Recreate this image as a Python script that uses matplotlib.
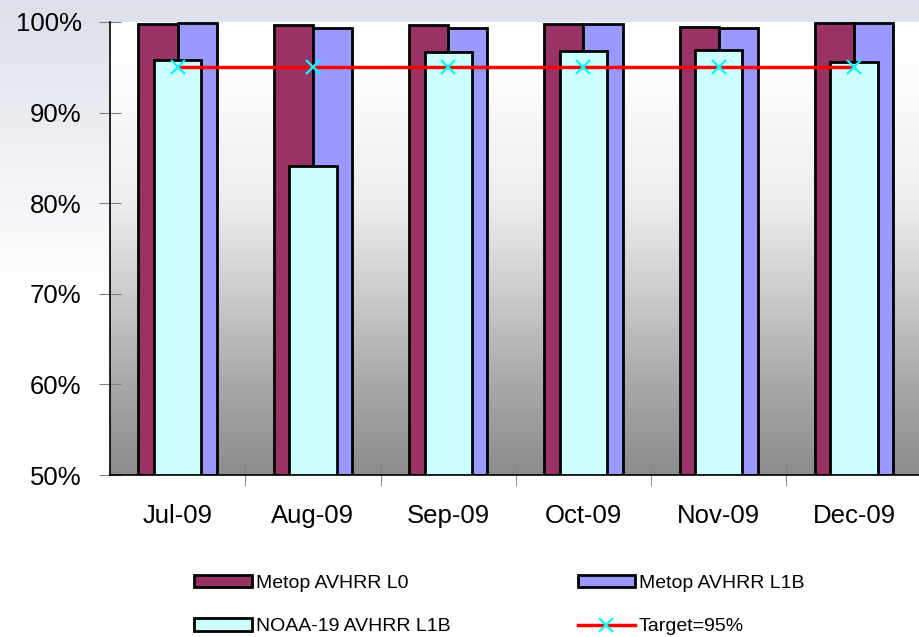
import matplotlib.pyplot as plt
import matplotlib.lines as mlines
import matplotlib.patches as mpatches
import numpy as np

plt.rcParams['font.family'] = ['Liberation Sans', 'DejaVu Sans']

months = ['Jul-09', 'Aug-09', 'Sep-09', 'Oct-09', 'Nov-09', 'Dec-09']
metop_l0 = [99.8, 99.7, 99.7, 99.8, 99.5, 99.9]
metop_l1b = [99.9, 99.3, 99.3, 99.8, 99.3, 99.9]
noaa19_l1b = [95.8, 84.1, 96.7, 96.8, 96.9, 95.6]
target = [95, 95, 95, 95, 95, 95]

fig = plt.figure(figsize=(9.19, 6.37), dpi=100)

# figure background: light blue-grey at the top fading to white
bg = fig.add_axes([0, 0, 1, 1], zorder=-10)
g = np.interp(np.linspace(0, 1, 256), [0, 0.45, 1], [0, 1, 1])
top = np.array([0.865, 0.878, 0.918])
col = top[None, :] * (1 - g[:, None]) + g[:, None]
bg.imshow(col[:, None, :], aspect='auto', extent=[0, 1, 0, 1])
bg.axis('off')

ax = fig.add_axes([0.1197, 0.2543, 0.8803, 0.7112])
x = np.arange(len(months))

# plot area gradient: white at top to grey at bottom
t = np.linspace(0, 1, 256)
v = np.interp(t, [0, 0.13, 0.4, 0.6, 0.8, 1], [1.0, 0.99, 0.93, 0.80, 0.66, 0.55])
grad = np.stack([v, v, v], axis=1)[:, None, :]
ax.imshow(grad, aspect='auto', extent=[-0.5, 5.48, 50, 100], zorder=0)

w = 0.29
ax.bar(x - w / 2, np.array(metop_l0) - 50, w, bottom=50, color='#993366',
       edgecolor='black', linewidth=2, zorder=2)
ax.bar(x + w / 2, np.array(metop_l1b) - 50, w, bottom=50, color='#9999ff',
       edgecolor='black', linewidth=2, zorder=2)
ax.bar(x, np.array(noaa19_l1b) - 50, 0.35, bottom=50, color='#ccffff',
       edgecolor='black', linewidth=2, zorder=3)
ax.plot(x, target, color='red', linewidth=2.5, marker='x', markersize=10,
        markeredgecolor='cyan', markeredgewidth=1.6, zorder=4)

ax.set_xlim(-0.5, 5.48)
ax.set_ylim(50, 100)
ax.set_yticks([50, 60, 70, 80, 90, 100])
ax.set_yticklabels(['50%', '60%', '70%', '80%', '90%', '100%'], fontsize=18.5)
ax.set_xticks(x)
ax.set_xticklabels(months, fontsize=18.5)
ax.tick_params(axis='x', length=0, pad=21)
ax.set_xticks(np.arange(0.5, 5.5, 1), minor=True)
ax.tick_params(axis='x', which='minor', direction='inout', length=16,
               color='#808080')
ax.tick_params(axis='y', direction='inout', length=16, color='#808080', pad=12.5)
for s in ['top', 'right']:
    ax.spines[s].set_visible(False)
ax.spines['left'].set_linewidth(1.2)
ax.spines['bottom'].set_linewidth(1.2)

handles = [
    mpatches.Patch(facecolor='#993366', edgecolor='black', linewidth=2, label='Metop AVHRR L0'),
    mpatches.Patch(facecolor='#ccffff', edgecolor='black', linewidth=2, label='NOAA-19 AVHRR L1B'),
    mpatches.Patch(facecolor='#9999ff', edgecolor='black', linewidth=2, label='Metop AVHRR L1B'),
    mlines.Line2D([], [], color='red', linewidth=2.5, marker='x', markersize=10,
                  markeredgecolor='cyan', markeredgewidth=1.6, label='Target=95%'),
]
fig.legend(handles=handles, ncol=2, loc='center left', bbox_to_anchor=(0.201, 0.050),
           frameon=False, fontsize=14, handlelength=2.95, handleheight=0.6,
           handletextpad=0.2, columnspacing=6.55, labelspacing=1.36, borderpad=0)

fig.savefig('out.png', dpi=100)
